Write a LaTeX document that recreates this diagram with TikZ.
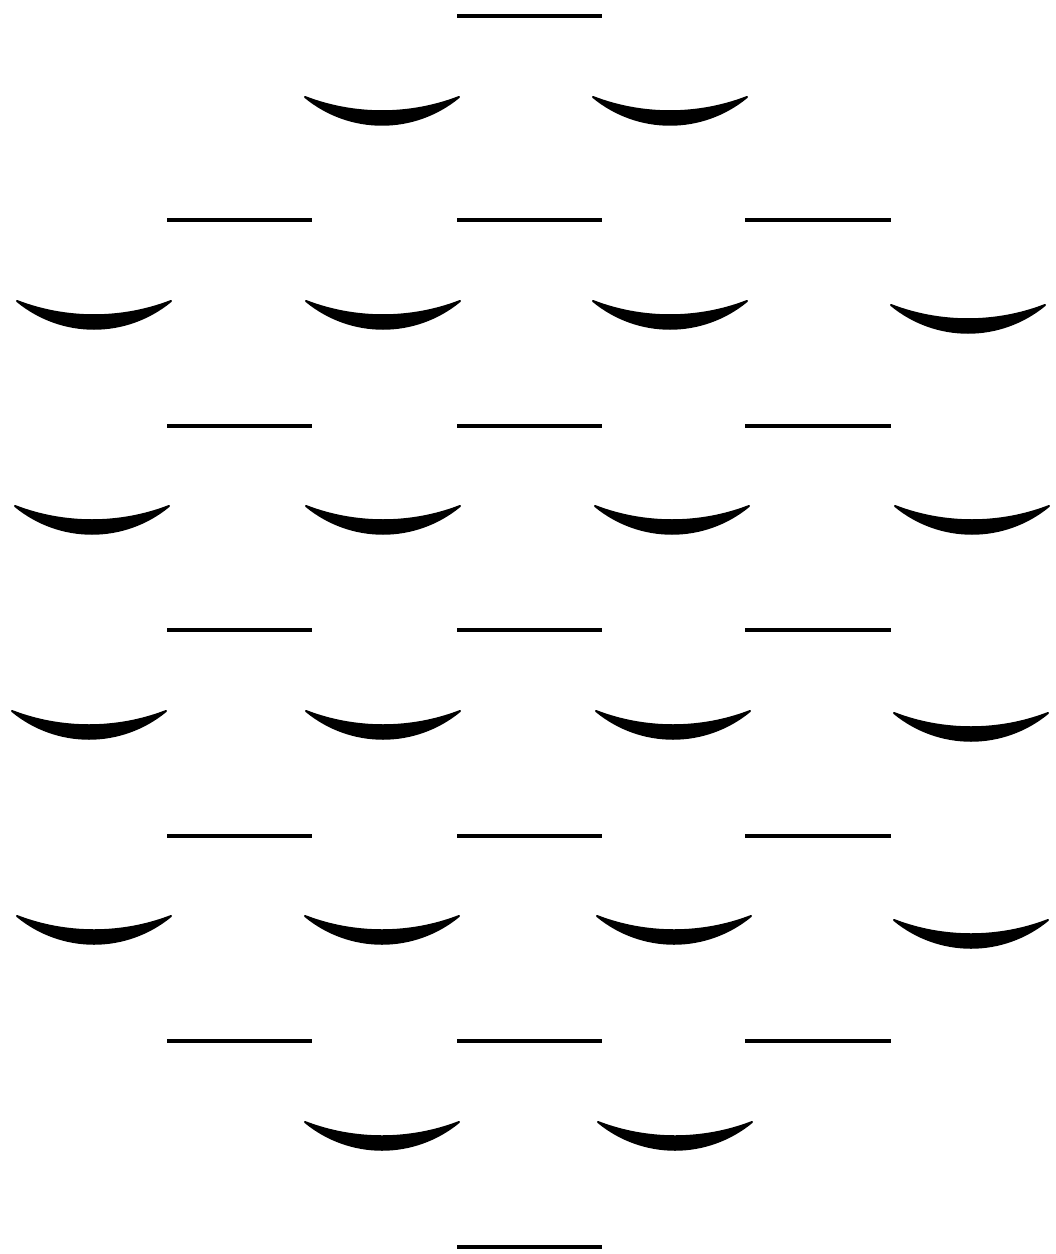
\documentclass[tikz,border=0pt]{standalone}

\tikzset{
  barline/.style={line width=0.11cm},
  crescent/.pic={
    \filldraw[line width=0.05cm,line join=round]
      (-77,0) .. controls (-32,37) and (32,37) .. (77,0)
      .. controls (28,19) and (-28,19) .. cycle;
  }
}

\begin{document}
\begin{tikzpicture}[x=0.025cm,y=-0.025cm]
\useasboundingbox (0,0) rectangle (1056,1254);

% short bars
\draw[barline] (457,16) -- (602,16);
\foreach \y in {220,426,630,836,1041}{
  \draw[barline] (167,\y) -- (312,\y);
  \draw[barline] (457,\y) -- (602,\y);
  \draw[barline] (745,\y) -- (891,\y);
}
\draw[barline] (457,1247) -- (602,1247);

% crescents
\pic at (382,97) {crescent};
\pic at (670,97) {crescent};

\pic at (94,301) {crescent};
\pic at (383,301) {crescent};
\pic at (670,301) {crescent};
\pic at (968,305) {crescent};

\pic at (92,506) {crescent};
\pic at (383,506) {crescent};
\pic at (672,506) {crescent};
\pic at (972,506) {crescent};

\pic at (89,711) {crescent};
\pic at (383,711) {crescent};
\pic at (673,711) {crescent};
\pic at (971,713) {crescent};

\pic at (94,916) {crescent};
\pic at (382,916) {crescent};
\pic at (674,916) {crescent};
\pic at (971,920) {crescent};

\pic at (382,1122) {crescent};
\pic at (675,1122) {crescent};
\end{tikzpicture}
\end{document}
